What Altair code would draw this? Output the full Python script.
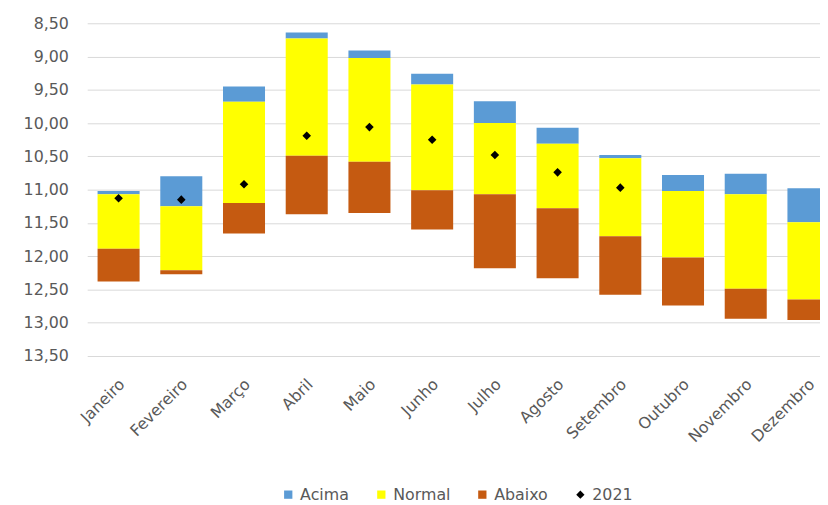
import altair as alt
import pandas as pd

months = ["Janeiro", "Fevereiro", "Março", "Abril", "Maio", "Junho", "Julho",
          "Agosto", "Setembro", "Outubro", "Novembro", "Dezembro"]
acima_top = [11.02, 10.80, 9.45, 8.64, 8.91, 9.26, 9.67, 10.07, 10.48, 10.78, 10.76, 10.98]
normal_top = [11.07, 11.25, 9.68, 8.73, 9.02, 9.42, 10.00, 10.31, 10.53, 11.02, 11.07, 11.49]
abaixo_top = [11.89, 12.21, 11.20, 10.49, 10.58, 11.01, 11.07, 11.28, 11.70, 12.02, 12.49, 12.65]
abaixo_bottom = [12.38, 12.27, 11.66, 11.37, 11.35, 11.60, 12.18, 12.33, 12.58, 12.74, 12.94, 12.96]
valores_2021 = [11.13, 11.15, 10.92, 10.19, 10.06, 10.25, 10.48, 10.74, 10.97, None, None, None]

series = ["Acima", "Normal", "Abaixo", "2021"]
colors = ["#5B9BD5", "#FFFF00", "#C55A11", "#000000"]
shapes = ["square", "square", "square", "diamond"]
y_ticks = [8.5, 9.0, 9.5, 10.0, 10.5, 11.0, 11.5, 12.0, 12.5, 13.0, 13.5]

rows = []
for i, m in enumerate(months):
    rows.append({"mes": m, "serie": "Acima", "y": acima_top[i], "y2": normal_top[i]})
    rows.append({"mes": m, "serie": "Normal", "y": normal_top[i], "y2": abaixo_top[i]})
    rows.append({"mes": m, "serie": "Abaixo", "y": abaixo_top[i], "y2": abaixo_bottom[i]})
bars_df = pd.DataFrame(rows)

pts_df = pd.DataFrame({"mes": months, "v": valores_2021, "serie": ["2021"] * 12}).dropna()

FONT = "DejaVu Sans"
GRAY = "#595959"

legend = alt.Legend(
    title=None, orient="none", legendX=195, legendY=468, direction="horizontal",
    symbolSize=70, symbolStrokeWidth=0, labelFontSize=16, labelColor=GRAY,
    labelFont=FONT, columnPadding=24, symbolOffset=0, labelOffset=4,
)

color = alt.Color("serie:N", scale=alt.Scale(domain=series, range=colors), legend=legend)

xscale = alt.Scale(domain=months, range=[0, 760], paddingInner=0.33, paddingOuter=0.165)
xaxis = alt.Axis(title=None, labelAngle=-45, domain=False, ticks=False, labelPadding=20,
                 labelFontSize=16, labelColor=GRAY, labelFont=FONT, labelAlign="right",
                 labelBaseline="top", labelOffset=-2)
yscale = alt.Scale(domain=[8.5, 13.5], reverse=True, nice=False, zero=False)
yaxis = alt.Axis(title=None, values=y_ticks, tickCount=20,
                 labelExpr="replace(format(datum.value, '.2f'), '.', ',')",
                 grid=True, gridColor="#d9d9d9", gridWidth=1, domain=False, ticks=False,
                 labelOverlap=False, labelFlush=False,
                 labelPadding=19, labelFontSize=16, labelColor=GRAY, labelFont=FONT)

bars = alt.Chart(bars_df).mark_bar(clip=True).encode(
    x=alt.X("mes:N", sort=months, scale=xscale, axis=xaxis),
    y=alt.Y("y:Q", scale=yscale, axis=yaxis),
    y2="y2:Q",
    color=color,
)

points = alt.Chart(pts_df).mark_point(filled=True, size=75, opacity=1).encode(
    x=alt.X("mes:N", sort=months, scale=xscale),
    y=alt.Y("v:Q", scale=yscale),
    color=color,
    shape=alt.Shape("serie:N", scale=alt.Scale(domain=series, range=shapes), legend=legend),
)

chart = alt.layer(bars, points).properties(
    width=740, height=336,
    autosize=alt.AutoSizeParams(type="none"),
    padding={"left": 80, "top": 13, "right": 0, "bottom": 146},
).configure_view(stroke=None)

chart.save("out.html", embed_options={"renderer": "svg", "actions": False})
